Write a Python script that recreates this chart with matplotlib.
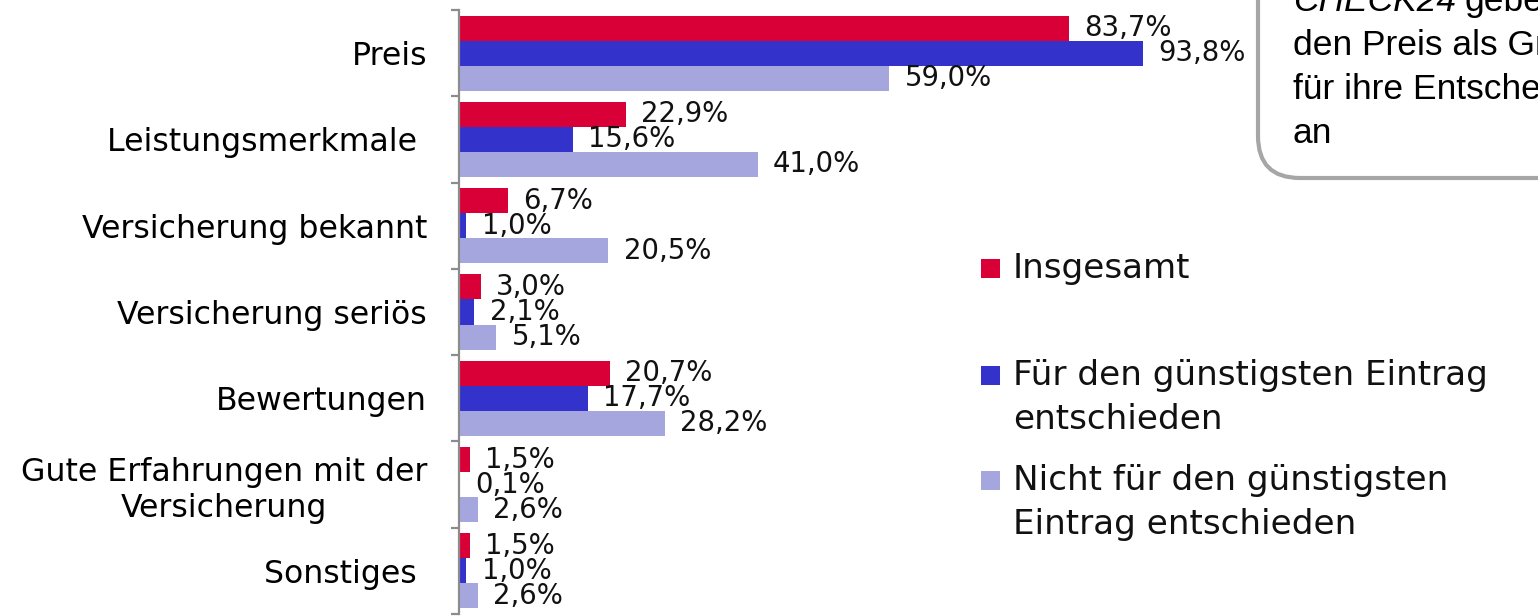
import numpy as np
import matplotlib.pyplot as plt
from matplotlib.patches import FancyBboxPatch, Rectangle
from matplotlib.transforms import IdentityTransform

categories = ["Preis", "Leistungsmerkmale ", "Versicherung bekannt", "Versicherung seriös",
              "Bewertungen", "Gute Erfahrungen mit der\nVersicherung", "Sonstiges "]
series_names = ["Insgesamt",
                "Für den günstigsten Eintrag\nentschieden",
                "Nicht für den günstigsten\nEintrag entschieden"]
insgesamt = [83.7, 22.9, 6.7, 3.0, 20.7, 1.5, 1.5]
guenstigster = [93.8, 15.6, 1.0, 2.1, 17.7, 0.1, 1.0]
nicht_guenstigster = [59.0, 41.0, 20.5, 5.1, 28.2, 2.6, 2.6]
colors = ["#d80036", "#3333cc", "#a6a6df"]

W, H = 1538, 616
fig = plt.figure(figsize=(W / 100, H / 100), dpi=100)
ax = fig.add_axes([459 / W, 2 / H, 729 / W, 604 / H])

y = np.arange(len(categories))
h = 0.29
for k, vals in enumerate([insgesamt, guenstigster, nicht_guenstigster]):
    bars = ax.barh(y + (k - 1) * h, vals, height=h, color=colors[k], clip_on=False)
    ax.bar_label(bars, labels=[f"{v:.1f}%".replace(".", ",") for v in vals],
                 padding=11, fontsize=19.8, color="#111111")

ax.set_xlim(0, 100)
ax.set_ylim(len(categories) - 0.5, -0.5)
ax.set_xticks([])
for s in ["top", "right", "bottom"]:
    ax.spines[s].set_visible(False)
ax.spines["left"].set_color("#8c8c8c")
ax.spines["left"].set_linewidth(1.6)

ax.set_yticks(y)
ax.set_yticklabels(categories, fontsize=22.7, multialignment="center")
ax.tick_params(axis="y", which="major", length=0, pad=23)
ax.set_yticks(np.arange(-0.5, len(categories), 1.0), minor=True)
ax.tick_params(axis="y", which="minor", length=6, width=1.6, color="#8c8c8c")

# legend drawn by hand in pixel coordinates
ident = IdentityTransform()
item_y = [268, 375, 480]
for k, name in enumerate(series_names):
    yc = H - item_y[k]
    fig.add_artist(Rectangle((981, yc - 9.5), 19, 19, transform=ident,
                             facecolor=colors[k], edgecolor="none"))
    fig.text(1013 / W, (yc + 16) / H, name, fontsize=24.6, va="top", ha="left",
             linespacing=1.42, color="#111111")

# callout box, cut by the figure edge
box = FancyBboxPatch((1258, H - 178), 400, 300, transform=ident,
                     boxstyle="round,pad=0,rounding_size=42",
                     facecolor="white", edgecolor="#a6a6a6", linewidth=3)
fig.add_artist(box)
box_fs = 25.5
t = fig.text(1293 / W, (H - 11) / H, "CHECK24", fontsize=box_fs, style="italic",
             family="Liberation Sans", va="baseline", ha="left")
fig.canvas.draw()
x_end = t.get_window_extent().x1
fig.text((x_end + 8) / W, (H - 11) / H, "geben", fontsize=box_fs,
         family="Liberation Sans", va="baseline", ha="left")
for i, line in enumerate(["den Preis als Grund", "für ihre Entscheidung", "an"]):
    fig.text(1293 / W, (H - 55 - 44 * i) / H, line, fontsize=box_fs,
             family="Liberation Sans", va="baseline", ha="left")

fig.savefig("out.png", dpi=100)
